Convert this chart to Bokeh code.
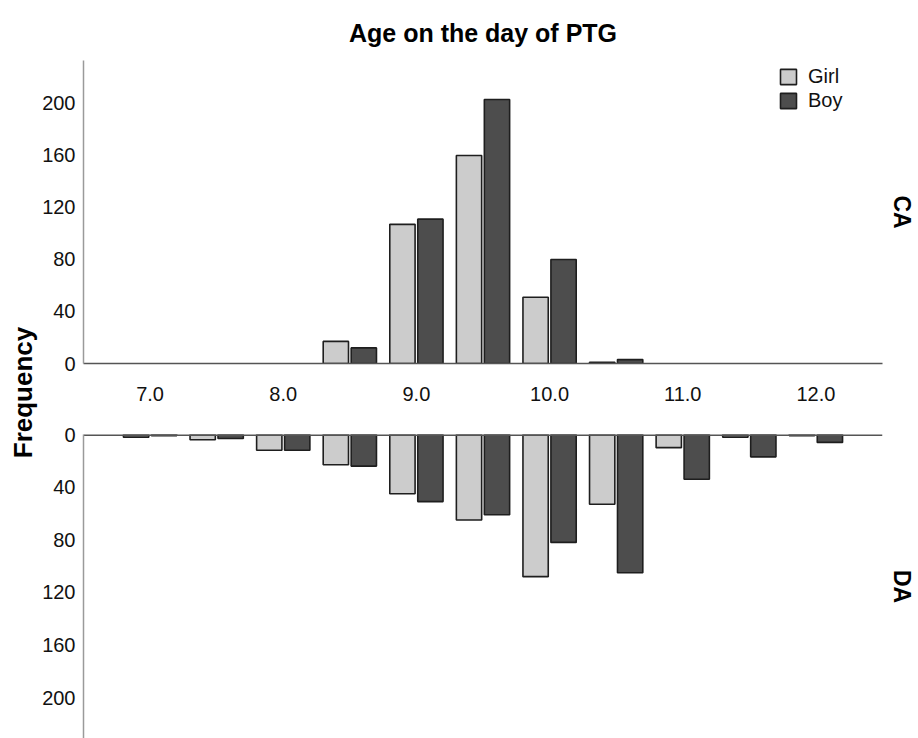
import math
from bokeh.plotting import figure
from bokeh.models import (Range1d, FixedTicker, PrintfTickFormatter, LinearAxis,
                          ColumnDataSource, Legend, LegendItem)
from bokeh.layouts import row, column
from bokeh.transform import dodge
from bokeh.embed import file_html
from bokeh.resources import INLINE

# ---------------- data ----------------
ages = [7.0, 7.5, 8.0, 8.5, 9.0, 9.5, 10.0, 10.5, 11.0, 11.5, 12.0]
ca_girl = [0, 0, 0, 17, 107, 160, 51, 1, 0, 0, 0]
ca_boy = [0, 0, 0, 12, 111, 203, 80, 3, 0, 0, 0]
da_girl = [2, 4, 12, 23, 45, 65, 108, 53, 10, 2, 1]
da_boy = [1, 3, 12, 24, 51, 61, 82, 105, 34, 17, 6]
x_ticks = [7, 8, 9, 10, 11, 12]
y_ticks = [0, 40, 80, 120, 160, 200]
series_names = ["Girl", "Boy"]

GIRL_COLOR = "#cccccc"
BOY_COLOR = "#4d4d4d"
EDGE = "#1e1e1e"
FONT = "Liberation Sans"
TEXT = "#111111"

BAR_W = 0.19
OFF = 0.105


def nz_source(vals):
    xs = [a for a, v in zip(ages, vals) if v > 0]
    ys = [v for v in vals if v > 0]
    return ColumnDataSource(dict(age=xs, val=ys))


def style_common(p):
    p.grid.visible = False
    p.outline_line_color = None
    p.background_fill_color = "white"
    p.border_fill_color = "white"


def style_yaxis(ax):
    ax.ticker = FixedTicker(ticks=y_ticks)
    ax.major_tick_out = 0
    ax.major_tick_in = 0
    ax.minor_tick_out = 0
    ax.minor_tick_in = 0
    ax.axis_line_color = "#9a9a9a"
    ax.axis_line_width = 1.5
    ax.major_label_text_font = FONT
    ax.major_label_text_font_size = "20px"
    ax.major_label_text_color = TEXT
    ax.major_label_standoff = 8


def side_label(p, txt):
    ax = LinearAxis(axis_label=txt, ticker=FixedTicker(ticks=[]),
                    axis_line_color=None, major_tick_out=0, major_tick_in=0,
                    minor_tick_out=0, minor_tick_in=0,
                    major_label_text_font_size="0px",
                    axis_label_text_font=FONT,
                    axis_label_text_font_size="23px",
                    axis_label_text_font_style="bold",
                    axis_label_text_color="#000000",
                    axis_label_standoff=6)
    p.add_layout(ax, "right")


LEFT_W = 38
MAIN_W = 918 - LEFT_W

# ---------------- top panel (CA) ----------------
top = figure(width=MAIN_W, height=410, x_range=Range1d(6.5, 12.5),
             y_range=Range1d(0, 233), output_backend="svg",
             toolbar_location=None, min_border_left=45, min_border_right=36,
             min_border_top=60, min_border_bottom=47,
             title="Age on the day of PTG")
style_common(top)
top.title.align = "center"
top.title.text_font = FONT
top.title.text_font_size = "25px"
top.title.text_font_style = "bold"
top.title.text_color = "#000000"
top.title.standoff = 27

xa = top.xaxis[0]
xa.ticker = FixedTicker(ticks=x_ticks)
xa.formatter = PrintfTickFormatter(format="%.1f")
xa.major_tick_out = 0
xa.major_tick_in = 0
xa.minor_tick_out = 0
xa.minor_tick_in = 0
xa.axis_line_color = "#555555"
xa.axis_line_width = 1.5
xa.major_label_text_font = FONT
xa.major_label_text_font_size = "20px"
xa.major_label_text_color = TEXT
xa.major_label_standoff = 23
style_yaxis(top.yaxis[0])
side_label(top, "CA")

src_cg = nz_source(ca_girl)
src_cb = nz_source(ca_boy)
rg = top.vbar(x=dodge("age", -OFF, range=top.x_range), top="val", bottom=0,
              width=BAR_W, source=src_cg, fill_color=GIRL_COLOR,
              line_color=EDGE, line_width=1.6)
rb = top.vbar(x=dodge("age", OFF, range=top.x_range), top="val", bottom=0,
              width=BAR_W, source=src_cb, fill_color=BOY_COLOR,
              line_color=EDGE, line_width=1.6)

legend = Legend(items=[LegendItem(label=series_names[0], renderers=[rg]),
                       LegendItem(label=series_names[1], renderers=[rb])],
                location=(695, 251), border_line_color=None,
                background_fill_alpha=0, padding=0, margin=0, spacing=1,
                glyph_width=20, glyph_height=19, label_height=19,
                label_standoff=10, label_text_font=FONT,
                label_text_font_size="20px", label_text_color=TEXT)
top.add_layout(legend)

# ---------------- bottom panel (DA) ----------------
bot = figure(width=MAIN_W, height=328, x_range=top.x_range,
             y_range=Range1d(231, 0), output_backend="svg",
             toolbar_location=None, min_border_left=45, min_border_right=36,
             min_border_top=24, min_border_bottom=0, x_axis_location=None)
style_common(bot)
style_yaxis(bot.yaxis[0])
side_label(bot, "DA")

src_dg = nz_source(da_girl)
src_db = nz_source(da_boy)
bot.vbar(x=dodge("age", -OFF, range=bot.x_range), top="val", bottom=0,
         width=BAR_W, source=src_dg, fill_color=GIRL_COLOR,
         line_color=EDGE, line_width=1.6)
bot.vbar(x=dodge("age", OFF, range=bot.x_range), top="val", bottom=0,
         width=BAR_W, source=src_db, fill_color=BOY_COLOR,
         line_color=EDGE, line_width=1.6)
bot.segment(x0=[6.5], x1=[12.5], y0=[0], y1=[0], line_color="#555555",
            line_width=3)

# ---------------- shared y label ----------------
lab = figure(width=LEFT_W, height=738, x_range=Range1d(0, LEFT_W),
             y_range=Range1d(738, 0), output_backend="svg",
             toolbar_location=None, min_border=0)
style_common(lab)
lab.axis.visible = False
lab.text(x=[22], y=[392], text=["Frequency"], angle=math.pi / 2,
         text_align="center", text_baseline="middle",
         text_font={"value": FONT}, text_font_size="26px",
         text_font_style="bold", text_color="#000000")

layout = row(lab, column(top, bot))
open("out.html", "w").write(file_html(layout, INLINE))
